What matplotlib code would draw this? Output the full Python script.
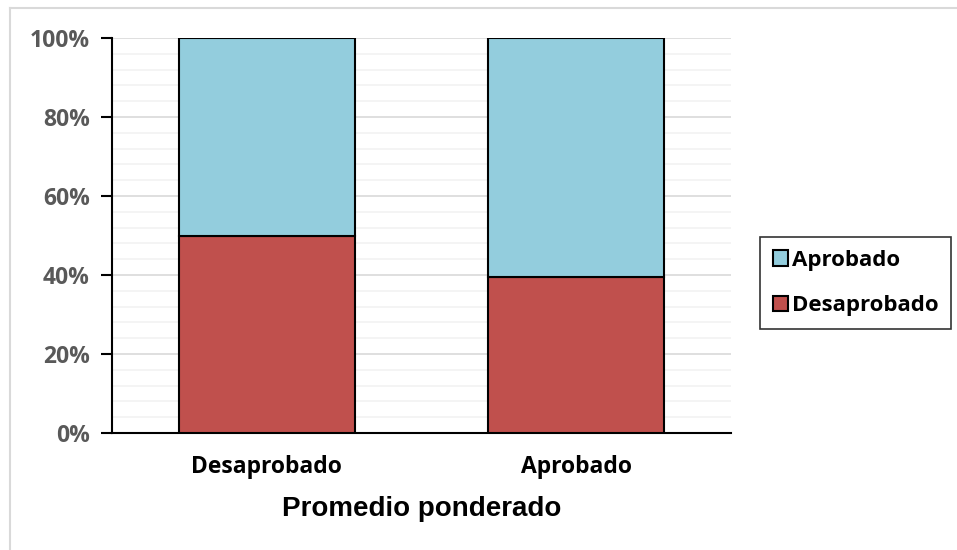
import matplotlib.pyplot as plt
from matplotlib.lines import Line2D
from matplotlib.ticker import MultipleLocator, PercentFormatter
import numpy as np

categories = ["Desaprobado", "Aprobado"]
desaprobado = [50.0, 39.6]
aprobado = [50.0, 60.4]
series_names = ["Desaprobado", "Aprobado"]

W, H = 957, 550
fig = plt.figure(figsize=(W / 100, H / 100), dpi=100)
ax = fig.add_axes([112 / W, 1 - 433 / H, (731 - 112) / W, (433 - 38) / H])

x = np.arange(len(categories))
b1 = ax.bar(x, desaprobado, width=0.57, color="#C0504D", edgecolor="black",
            linewidth=1.5, label=series_names[0], zorder=3)
b2 = ax.bar(x, aprobado, bottom=desaprobado, width=0.57, color="#93CDDD",
            edgecolor="black", linewidth=1.5, label=series_names[1], zorder=3)

ax.set_xlim(-0.5, 1.5)
ax.set_ylim(0, 100)
ax.yaxis.set_major_locator(MultipleLocator(20))
ax.yaxis.set_minor_locator(MultipleLocator(4))
ax.yaxis.set_major_formatter(PercentFormatter(decimals=0))
ax.grid(axis="y", which="major", color="#d9d9d9", linewidth=1.2, zorder=0)
ax.grid(axis="y", which="minor", color="#f2f2f2", linewidth=1.2, zorder=0)

for s in ["top", "right"]:
    ax.spines[s].set_visible(False)
ax.spines["left"].set_linewidth(1.5)
ax.spines["bottom"].set_linewidth(1.5)
ax.tick_params(axis="y", which="major", length=8, width=1.5, pad=8,
               labelsize=16.5, labelcolor="#595959")
ax.tick_params(axis="y", which="minor", length=0)
ax.tick_params(axis="x", length=0, pad=16, labelsize=16.5)
ax.set_xticks(x)
ax.set_xticklabels(categories)
for lab in ax.get_yticklabels() + ax.get_xticklabels():
    lab.set_fontfamily("Open Sans")
    lab.set_fontweight("bold")

ax.set_xlabel("Promedio ponderado", fontsize=20, fontweight="bold",
              fontfamily="Liberation Sans", labelpad=12)

leg = ax.legend(handles=[b2, b1], loc="center left", bbox_to_anchor=(760 / W, 1 - 283 / H),
                bbox_transform=fig.transFigure, frameon=True, fancybox=False,
                edgecolor="black", handlelength=0.7, handleheight=0.7,
                handletextpad=0.15, labelspacing=1.1, borderpad=0.58, borderaxespad=0,
                prop={"family": "Open Sans", "weight": "bold", "size": 16})
leg.get_frame().set_linewidth(1.2)

fig.add_artist(Line2D([10 / W, 1], [1 - 8 / H, 1 - 8 / H], color="#d9d9d9", linewidth=1.5))
fig.add_artist(Line2D([10 / W, 10 / W], [0, 1 - 8 / H], color="#d9d9d9", linewidth=1.5))

fig.savefig("out.png", dpi=100)
